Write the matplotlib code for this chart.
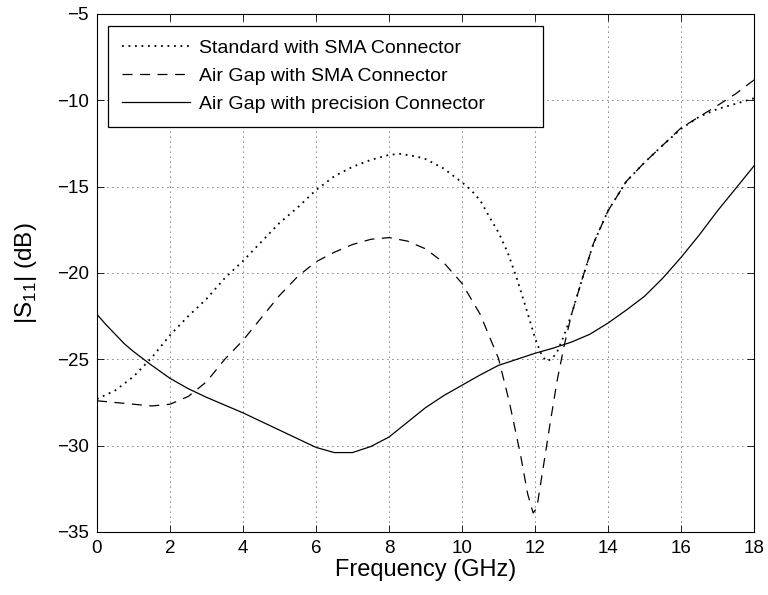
import matplotlib
matplotlib.use('Agg')
import matplotlib.pyplot as plt

plt.rcParams['font.family'] = ['Liberation Sans', 'DejaVu Sans']
plt.rcParams['mathtext.fontset'] = 'custom'
plt.rcParams['mathtext.rm'] = 'Liberation Sans'

# Standard with SMA Connector
f_std = [0, 0.5, 1.0, 1.5, 2.0, 2.5, 3.0, 3.5, 4.0, 4.5, 5.0, 5.5, 6.0, 6.5, 7.0, 7.5,
         8.0, 8.3, 8.75, 9.0, 9.5, 10.0, 10.25, 10.5, 10.75, 11.0, 11.25, 11.5, 11.75,
         12.0, 12.15, 12.3, 12.45, 12.6, 12.8, 13.0, 13.3, 13.6, 14.0, 14.5, 15.0, 15.5,
         16.0, 16.5, 17.0, 17.5, 18.0]
s_std = [-27.3, -26.8, -26.0, -24.9, -23.6, -22.5, -21.5, -20.3, -19.3, -18.2, -17.1,
         -16.2, -15.2, -14.4, -13.85, -13.45, -13.16, -13.1, -13.25, -13.4, -13.95,
         -14.75, -15.2, -15.8, -16.75, -17.65, -18.8, -20.3, -22.0, -23.75, -24.6,
         -25.1, -25.0, -24.6, -23.6, -22.4, -20.3, -18.3, -16.4, -14.7, -13.6, -12.6,
         -11.65, -10.95, -10.5, -10.2, -9.88]

# Air Gap with SMA Connector
f_sma = [0, 0.5, 1.0, 1.5, 2.0, 2.5, 3.0, 3.5, 4.0, 4.5, 5.0, 5.5, 6.0, 6.5, 7.0, 7.5,
         8.0, 8.5, 9.0, 9.5, 10.0, 10.5, 11.0, 11.3, 11.6, 11.8, 11.95, 12.05, 12.2,
         12.4, 12.6, 12.8, 13.0, 13.3, 13.6, 14.0, 14.5, 15.0, 15.5, 16.0, 16.5, 17.0,
         17.5, 18.0]
s_sma = [-27.4, -27.5, -27.6, -27.7, -27.6, -27.15, -26.3, -25.0, -23.9, -22.6, -21.3,
         -20.2, -19.35, -18.8, -18.35, -18.05, -17.95, -18.15, -18.6, -19.4, -20.6,
         -22.4, -24.95, -27.5, -30.5, -32.8, -33.9, -33.6, -31.6, -28.9, -26.3, -24.2,
         -22.4, -20.3, -18.3, -16.4, -14.7, -13.6, -12.6, -11.6, -10.95, -10.3, -9.62,
         -8.82]

# Air Gap with precision Connector
f_prec = [0, 0.25, 0.5, 0.75, 1.0, 1.5, 2.0, 2.5, 3.0, 3.5, 4.0, 4.5, 5.0, 5.5, 6.0,
          6.5, 7.0, 7.5, 8.0, 8.5, 9.0, 9.5, 10.0, 10.5, 11.0, 11.5, 12.0, 12.5, 13.0,
          13.5, 14.0, 14.5, 15.0, 15.5, 16.0, 16.5, 17.0, 17.5, 18.0]
s_prec = [-22.4, -23.0, -23.55, -24.1, -24.55, -25.35, -26.1, -26.7, -27.2, -27.65,
          -28.1, -28.6, -29.1, -29.6, -30.1, -30.4, -30.4, -30.05, -29.5, -28.65, -27.8,
          -27.1, -26.5, -25.9, -25.35, -25.0, -24.65, -24.35, -24.0, -23.55, -22.9,
          -22.15, -21.35, -20.3, -19.1, -17.8, -16.4, -15.1, -13.8]

labels = ['Standard with SMA Connector', 'Air Gap with SMA Connector',
          'Air Gap with precision Connector']

fig, ax = plt.subplots(figsize=(7.68, 5.95), dpi=100)
fig.subplots_adjust(left=97/768, right=754/768, top=1-14/595, bottom=1-532/595)

ax.plot(f_std, s_std, color='black', lw=1.3, linestyle=(0, (1, 2.6)), label=labels[0])
ax.plot(f_sma, s_sma, color='black', lw=0.9, linestyle=(0, (8, 6)), label=labels[1])
ax.plot(f_prec, s_prec, color='black', lw=0.9, linestyle='-', label=labels[2])

ax.set_xlim(0, 18)
ax.set_ylim(-35, -5)
ax.set_xticks(range(0, 19, 2))
ax.set_yticks(range(-35, -4, 5))
ax.grid(True, color='black', linestyle=(0, (1, 5)), linewidth=0.6)
ax.tick_params(direction='in', top=True, right=True, length=5, width=0.6,
               labelsize=13.5, pad=6)
for sp in ax.spines.values():
    sp.set_linewidth(0.8)

ax.set_xlabel('Frequency (GHz)', fontsize=17, labelpad=1)
ax.set_ylabel(r'|S$_{\mathregular{11}}$| (dB)', fontsize=17.5, labelpad=13)

leg = ax.legend(loc='upper left', bbox_to_anchor=(0.0167, 0.5, 0.6621, 0.4770),
                mode='expand', borderaxespad=0, fontsize=14, handlelength=3.5,
                handletextpad=0.5, fancybox=False, framealpha=1, edgecolor='black',
                labelspacing=0.53, borderpad=0.7)
leg.get_frame().set_linewidth(0.9)

fig.savefig('out.png', dpi=100)
plt.close(fig)
